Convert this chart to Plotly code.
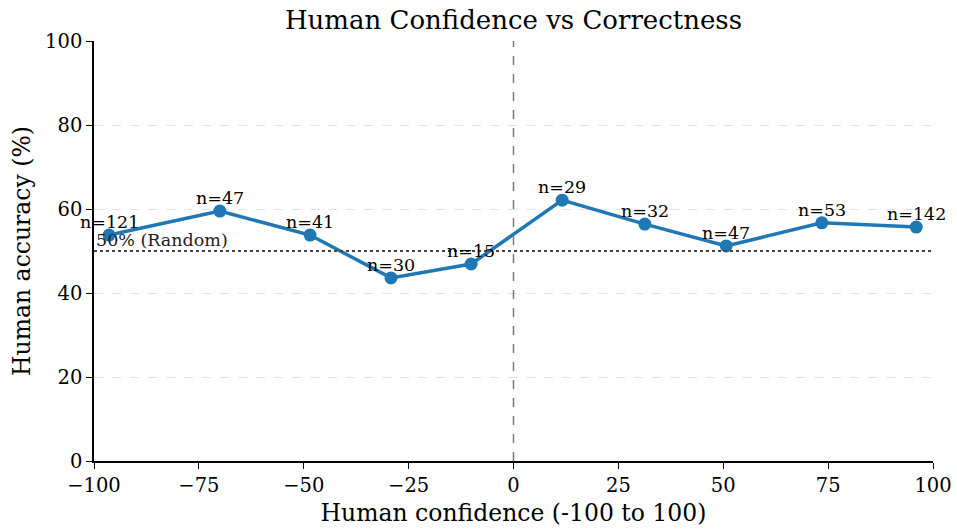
import plotly.graph_objects as go

confidence = [-96.4, -70.0, -48.5, -29.2, -10.1, 11.6, 31.3, 50.7, 73.5, 96.0]
accuracy = [53.8, 59.5, 53.8, 43.6, 46.9, 62.1, 56.4, 51.2, 56.7, 55.7]
counts = [121, 47, 41, 30, 15, 29, 32, 47, 53, 142]
x_ticks = [-100, -75, -50, -25, 0, 25, 50, 75, 100]
y_ticks = [0, 20, 40, 60, 80, 100]

FONT = "DejaVu Serif"
BLUE = "#1f77b4"

fig = go.Figure()
fig.add_trace(go.Scatter(
    x=confidence, y=accuracy, mode="lines+markers",
    line=dict(color=BLUE, width=3.5),
    marker=dict(color=BLUE, size=13),
    showlegend=False, cliponaxis=False,
))

for xv, yv, c in zip(confidence, accuracy, counts):
    fig.add_annotation(x=xv, y=yv, xref="x", yref="y", text=f"n={c}",
                       showarrow=False, xanchor="center", yanchor="bottom", yshift=1,
                       font=dict(family=FONT, size=17.5, color="black"))

fig.add_shape(type="line", xref="x", yref="y", x0=-100, x1=100, y0=50, y1=50,
              line=dict(color="#444444", width=2, dash="dot"))
fig.add_shape(type="line", xref="x", yref="y", x0=0, x1=0, y0=0, y1=100,
              line=dict(color="#777777", width=1.5, dash="dash"))
fig.add_annotation(x=-100, y=50, xref="x", yref="y", text="50% (Random)",
                   showarrow=False, xanchor="left", yanchor="bottom", yshift=-1,
                   font=dict(family=FONT, size=17.5, color="#222222"))

fig.update_layout(
    width=957, height=529,
    margin=dict(l=94, r=24, t=41, b=68, autoexpand=False),
    paper_bgcolor="white", plot_bgcolor="white",
    font=dict(family=FONT, color="black"),
    title=dict(text="Human Confidence vs Correctness", x=0.5, xanchor="center",
               xref="paper", y=1 - 20 / 529, yanchor="middle", yref="container",
               font=dict(family=FONT, size=26)),
)
fig.update_xaxes(
    range=[-100, 100], tickvals=x_ticks, ticktext=[str(v).replace("-", "\u2212") for v in x_ticks],
    showgrid=False, zeroline=False, automargin=False,
    showline=True, linecolor="black", linewidth=1.5,
    ticks="outside", ticklen=6, tickwidth=1.2, tickcolor="black",
    tickfont=dict(family=FONT, size=19.5),
    title=dict(text="Human confidence (-100 to 100)", font=dict(family=FONT, size=23.5), standoff=8),
)
fig.update_yaxes(
    range=[0, 100], tickvals=y_ticks,
    showgrid=True, gridcolor="#e3e3e3", griddash="dash", gridwidth=1,
    zeroline=False, automargin=False,
    showline=True, linecolor="black", linewidth=1.5,
    ticks="outside", ticklen=6, tickwidth=1.2, tickcolor="black",
    tickfont=dict(family=FONT, size=19.5),
    title=dict(text="Human accuracy (%)", font=dict(family=FONT, size=23.5), standoff=8),
)

fig.write_html("out.html", config={"displayModeBar": False},
               post_script="document.body.style.margin='0';")
